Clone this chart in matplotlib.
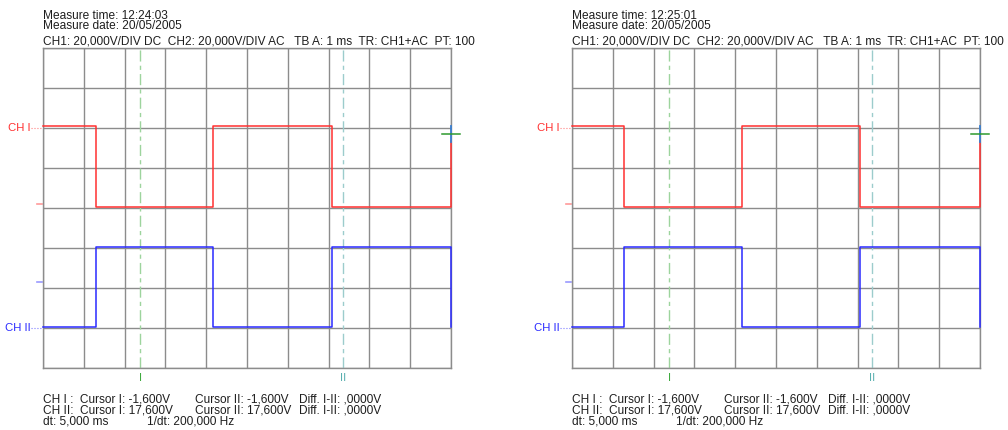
import matplotlib.pyplot as plt

W, H = 1008, 430

# two captures from the scope
measure_times = ['12:24:03', '12:25:01']
measure_date = '20/05/2005'
settings = 'CH1: 20,000V/DIV DC  CH2: 20,000V/DIV AC   TB A: 1 ms  TR: CH1+AC  PT: 100'

# edge times in divisions
edges = [[1.30, 4.17, 7.08], [1.28, 4.17, 7.06]]
ch1_high, ch1_low, ch1_end = 2.06, 0.03, 1.68
ch2_high, ch2_low = -0.97, -2.97
trig_level = 1.85
cursor_pos = [2.38, 7.35]
ch1_marker, ch2_marker = 0.11, -1.85

readout_ch = ['CH I :  Cursor I: -1,600V', 'CH II:  Cursor I: 17,600V']
readout_c2 = ['Cursor II: -1,600V', 'Cursor II: 17,600V']
readout_diff = ['Diff. I-II: ,0000V', 'Diff. I-II: ,0000V']
readout_dt = ['dt: 5,000 ms', '1/dt: 200,000 Hz']

plt.rcParams['font.family'] = ['Liberation Sans', 'DejaVu Sans']

RED = '#ff3030'
BLUE = '#2a2aff'
GRID = '#8c8c8c'
TXT = '#1e1e1e'
FS = 8.6

fig = plt.figure(figsize=(W / 100, H / 100), dpi=100)


def px(x, y):
    return x / W, 1 - y / H


def panel(x0, time_str, e):
    ax = fig.add_axes([x0 / W, (H - 368) / H, 408 / W, 320 / H])
    ax.set_xlim(0, 10)
    ax.set_ylim(-4, 4)
    ax.set_xticks(range(11))
    ax.set_yticks(range(-4, 5))
    ax.tick_params(length=0, labelbottom=False, labelleft=False)
    ax.grid(True, color=GRID, lw=1.0)
    for s in ax.spines.values():
        s.set_color(GRID)
        s.set_linewidth(1.0)

    # step traces
    t = [0, e[0], e[0], e[1], e[1], e[2], e[2], 10, 10]
    v1 = [ch1_high, ch1_high, ch1_low, ch1_low, ch1_high, ch1_high, ch1_low, ch1_low, ch1_end]
    v2 = [ch2_low, ch2_low, ch2_high, ch2_high, ch2_low, ch2_low, ch2_high, ch2_high, ch2_low]
    ax.plot(t, v1, color=RED, lw=1.1, zorder=3, clip_on=False)
    ax.plot(t, v2, color=BLUE, lw=1.1, zorder=3, clip_on=False)

    # trigger marker
    ax.plot([10, 10], [ch1_end - 0.02, 2.05], color='#3a7fd0', lw=1.3, zorder=4, clip_on=False)
    ax.plot([9.78, 10.22], [trig_level, trig_level], color='#2e9a2e', lw=1.1, zorder=5, clip_on=False)

    # cursors
    ax.axvline(cursor_pos[0], color='#9dd49d', lw=1.0, dashes=(8, 3, 3, 3), zorder=2)
    ax.axvline(cursor_pos[1], color='#9ccccc', lw=1.0, dashes=(8, 3, 3, 3), zorder=2)

    # channel markers on the left
    ax.plot([-0.3, 0], [2, 2], color=RED, lw=0.8, ls=':', clip_on=False, alpha=0.6)
    ax.plot([-0.3, 0], [-3, -3], color=BLUE, lw=0.8, ls=':', clip_on=False, alpha=0.6)
    ax.plot([-0.15, -0.03], [ch1_marker, ch1_marker], color='#ff9a9a', lw=1.2, clip_on=False)
    ax.plot([-0.15, -0.03], [ch2_marker, ch2_marker], color='#9a9aff', lw=1.2, clip_on=False)
    ax.text(-0.3, 2, 'CH I', color=RED, fontsize=8.2, ha='right', va='center')
    ax.text(-0.3, -3, 'CH II', color=BLUE, fontsize=8.2, ha='right', va='center')
    ax.text(cursor_pos[0], -4.25, 'I', color='#3faa3f', fontsize=8.2, ha='center', va='center')
    ax.text(cursor_pos[1], -4.25, 'II', color='#5ab0b0', fontsize=8.2, ha='center', va='center')

    # header
    fig.text(*px(x0, 21), 'Measure time: ' + time_str + '\nMeasure date: ' + measure_date,
             fontsize=FS, color=TXT, va='center', linespacing=0.85)
    fig.text(*px(x0, 42), settings, fontsize=FS, color=TXT, va='center')

    # cursor readout
    for x, lines in zip([x0, x0 + 152, x0 + 256], [readout_ch, readout_c2, readout_diff]):
        fig.text(*px(x, 405), '\n'.join(lines), fontsize=FS, color=TXT, va='center',
                 linespacing=0.8)
    for x, s in zip([x0, x0 + 104], readout_dt):
        fig.text(*px(x, 422), s, fontsize=FS, color=TXT, va='center')


panel(43, measure_times[0], edges[0])
panel(572, measure_times[1], edges[1])

fig.savefig('out.png', dpi=100)
